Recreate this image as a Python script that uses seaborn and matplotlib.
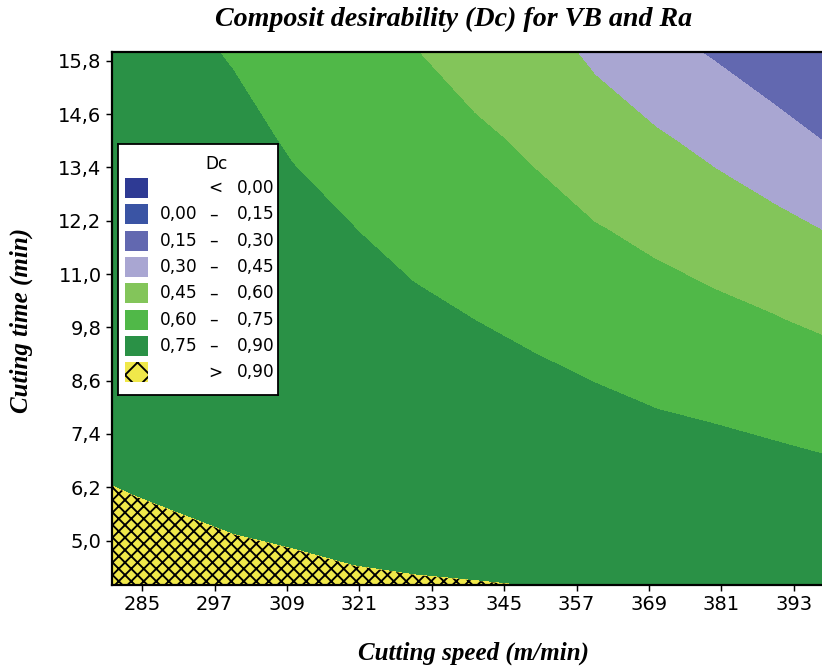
import numpy as np
import matplotlib
matplotlib.use('Agg')
import matplotlib.pyplot as plt
from matplotlib.patches import Rectangle
import seaborn as sns

sns.set_style('ticks')
plt.rcParams['font.family'] = ['DejaVu Sans']
plt.rcParams['text.color'] = 'black'
plt.rcParams['hatch.color'] = 'black'
plt.rcParams['hatch.linewidth'] = 1.8

# grid: Dc at each cutting speed (columns) for each cutting time (rows)
speed = [280, 290, 300, 310, 320, 330, 340, 350, 360, 370, 380, 390, 400]
time = [4, 6, 8, 10, 12, 14, 16]
dc_t4 = [0.930, 0.925, 0.920, 0.915, 0.910, 0.906, 0.903, 0.899, 0.893, 0.886, 0.876, 0.865, 0.852]
dc_t6 = [0.903, 0.895, 0.885, 0.878, 0.864, 0.854, 0.843, 0.838, 0.826, 0.816, 0.805, 0.792, 0.778]
dc_t8 = [0.877, 0.875, 0.865, 0.855, 0.848, 0.830, 0.812, 0.792, 0.775, 0.749, 0.737, 0.724, 0.713]
dc_t10 = [0.870, 0.860, 0.845, 0.830, 0.810, 0.778, 0.749, 0.723, 0.684, 0.660, 0.633, 0.604, 0.561]
dc_t12 = [0.855, 0.840, 0.820, 0.790, 0.752, 0.709, 0.688, 0.651, 0.608, 0.570, 0.531, 0.490, 0.436]
dc_t14 = [0.835, 0.815, 0.790, 0.736, 0.700, 0.655, 0.627, 0.577, 0.508, 0.470, 0.413, 0.345, 0.287]
dc_t16 = [0.810, 0.785, 0.740, 0.690, 0.650, 0.605, 0.541, 0.497, 0.430, 0.345, 0.286, 0.231, 0.160]

levels = [0.00, 0.15, 0.30, 0.45, 0.60, 0.75, 0.90]
band_colors = ['#2e3a94', '#3a54a4', '#6268b0', '#a9a6d2', '#83c55a', '#50b848', '#2a9146', '#f0e84a']
x_ticks = [285, 297, 309, 321, 333, 345, 357, 369, 381, 393]
y_ticks = [5.0, 6.2, 7.4, 8.6, 9.8, 11.0, 12.2, 13.4, 14.6, 15.8]

DPI = 75
W, H = 822, 667
def pt(px):
    return px * 72 / DPI

fig = plt.figure(figsize=(W / DPI, H / DPI), dpi=DPI)
ax = fig.add_axes([112 / W, 82 / H, 724 / W, 533 / H])

Z = np.array([dc_t4, dc_t6, dc_t8, dc_t10, dc_t12, dc_t14, dc_t16])
bounds = [-1.0] + levels + [2.0]
ax.contourf(speed, time, Z, levels=bounds, colors=band_colors)
# crosshatch on top of the > 0.90 region
hat = ax.contourf(speed, time, Z, levels=[levels[-1], 2.0], colors='none', hatches=['xx'])
hat.set_edgecolor('black')
hat.set_linewidth(0)

ax.set_xlim(280, 400)
ax.set_ylim(4, 16)
ax.set_xticks(x_ticks)
ax.set_xticklabels([str(v) for v in x_ticks])
ax.set_yticks(y_ticks)
ax.set_yticklabels([f'{v:.1f}'.replace('.', ',') for v in y_ticks])
ax.tick_params(direction='out', length=6, width=1.4, colors='black',
               labelsize=pt(19.5), pad=4)
for side in ['left', 'bottom', 'top']:
    ax.spines[side].set_color('black')
    ax.spines[side].set_linewidth(pt(2.2))
ax.spines['right'].set_visible(False)

fig.text(454 / W, 1 - 19 / H, 'Composit desirability (Dc) for VB and Ra',
         ha='center', va='center', family='Liberation Serif', weight='bold',
         style='italic', fontsize=pt(28))
fig.text(473 / W, 1 - 653 / H, 'Cutting speed (m/min)', ha='center', va='center',
         family='Liberation Serif', weight='bold', style='italic', fontsize=pt(25))
fig.text(21 / W, 1 - 320 / H, 'Cuting time (min)', ha='center', va='center', rotation=90,
         family='Liberation Serif', weight='bold', style='italic', fontsize=pt(25))

# legend box
lg = fig.add_axes([117.5 / W, 1 - 395 / H, 160 / W, 251 / H])
lg.set_xlim(0, 160)
lg.set_ylim(251, 0)
lg.set_xticks([])
lg.set_yticks([])
lg.set_facecolor('white')
for s in lg.spines.values():
    s.set_color('black')
    s.set_linewidth(pt(1.8))
lg.text(99, 20, 'Dc', ha='center', va='center', fontsize=pt(17))

fmt = lambda v: f'{v:.2f}'.replace('.', ',')
for i, c in enumerate(band_colors):
    yc = 44 + 26.35 * i
    if i == 7:
        lg.add_patch(Rectangle((7, yc - 10), 23, 20, facecolor=c, edgecolor='black',
                               linewidth=0, hatch='x'))
    else:
        lg.add_patch(Rectangle((7, yc - 10), 23, 20, facecolor=c, edgecolor='none'))
    if i == 0:
        lg.text(98, yc, '<', ha='center', va='center', fontsize=pt(17))
        lg.text(157, yc, fmt(levels[0]), ha='right', va='center', fontsize=pt(17))
    elif i == 7:
        lg.text(98, yc, '>', ha='center', va='center', fontsize=pt(17))
        lg.text(157, yc, fmt(levels[-1]), ha='right', va='center', fontsize=pt(17))
    else:
        lg.text(80, yc, fmt(levels[i - 1]), ha='right', va='center', fontsize=pt(17))
        lg.text(96, yc, '\u2013', ha='center', va='center', fontsize=pt(17))
        lg.text(157, yc, fmt(levels[i]), ha='right', va='center', fontsize=pt(17))

fig.savefig('out.png', dpi=DPI)
